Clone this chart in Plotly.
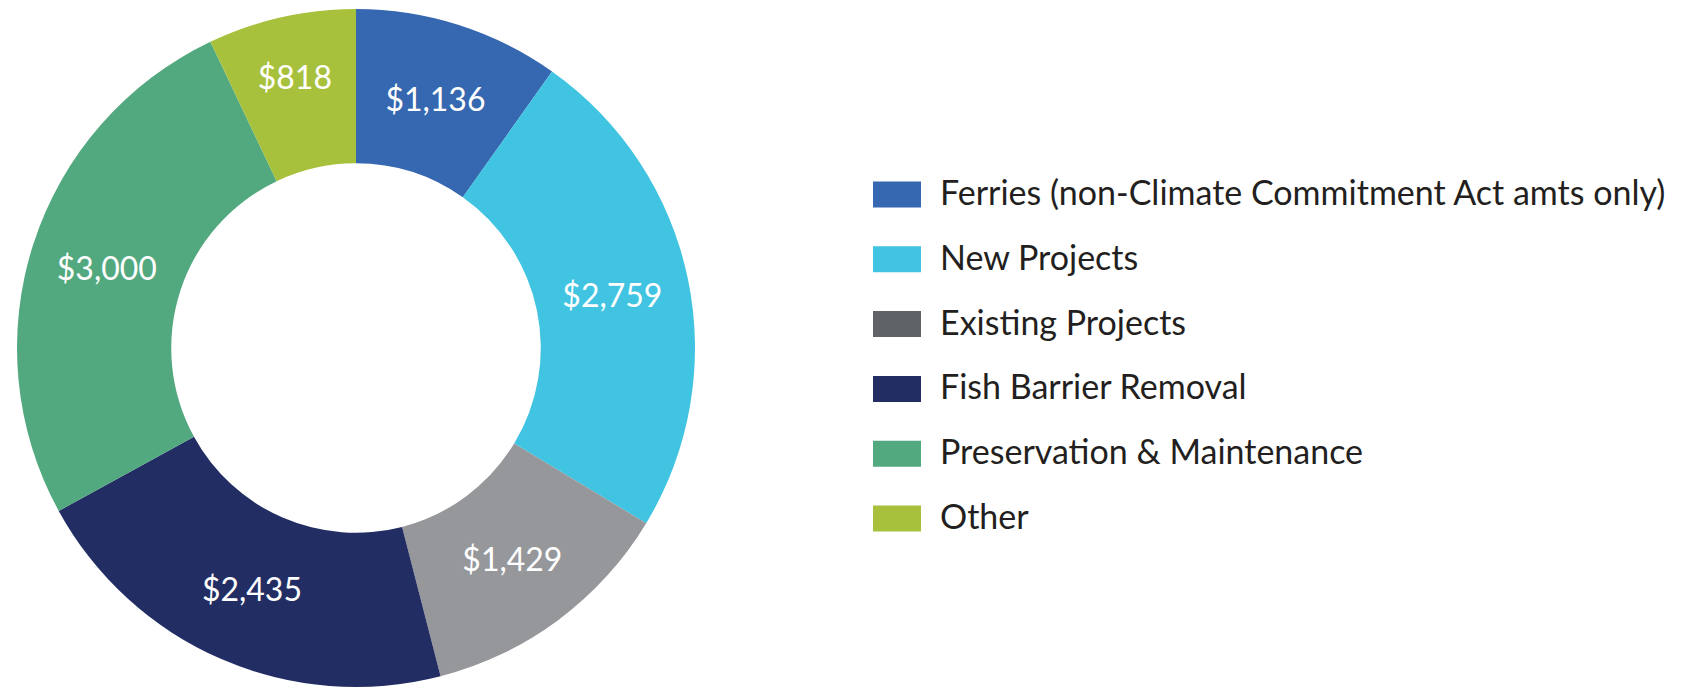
import plotly.graph_objects as go

categories = ["Ferries (non-Climate Commitment Act amts only)", "New Projects", "Existing Projects",
              "Fish Barrier Removal", "Preservation & Maintenance", "Other"]
values = [1136, 2759, 1429, 2435, 3000, 818]
slice_colors = ["#3568B0", "#40C4E2", "#96979B", "#222D64", "#53A97F", "#A8C13D"]
legend_colors = ["#3568B0", "#40C4E2", "#5F6368", "#222D64", "#53A97F", "#A8C13D"]

W, H = 1682, 696
FONT = "Lato"

fig = go.Figure(go.Pie(
    labels=categories,
    values=values,
    hole=0.545,
    sort=False,
    direction="clockwise",
    rotation=0,
    marker=dict(colors=slice_colors, line=dict(width=0)),
    texttemplate="$%{value:,}",
    textposition="inside",
    insidetextorientation="horizontal",
    textfont=dict(family=FONT, size=32, color="white"),
    domain=dict(x=[13 / W, 699 / W], y=[1 - 687 / H, 1 - 9 / H]),
    showlegend=False,
    hoverinfo="label+value",
))

shapes = []
annotations = []
y0 = 194.5
step = 64.8
for i, (name, col) in enumerate(zip(categories, legend_colors)):
    yc = y0 + i * step
    shapes.append(dict(type="rect", xref="paper", yref="paper",
                       x0=873 / W, x1=921 / W,
                       y0=1 - (yc + 13) / H, y1=1 - (yc - 13) / H,
                       fillcolor=col, line=dict(width=0)))
    annotations.append(dict(xref="paper", yref="paper", x=938 / W, y=1 - (yc - 3) / H,
                            xanchor="left", yanchor="middle", showarrow=False,
                            text=name, font=dict(family=FONT, size=34, color="#231F20")))

fig.update_layout(
    width=W, height=H,
    margin=dict(l=0, r=0, t=0, b=0),
    paper_bgcolor="white", plot_bgcolor="white",
    uniformtext=dict(minsize=32, mode="show"),
    shapes=shapes, annotations=annotations,
)

fig.write_html("out.html", config={"displayModeBar": False},
               post_script="document.body.style.margin='0';document.body.style.padding='0';")
